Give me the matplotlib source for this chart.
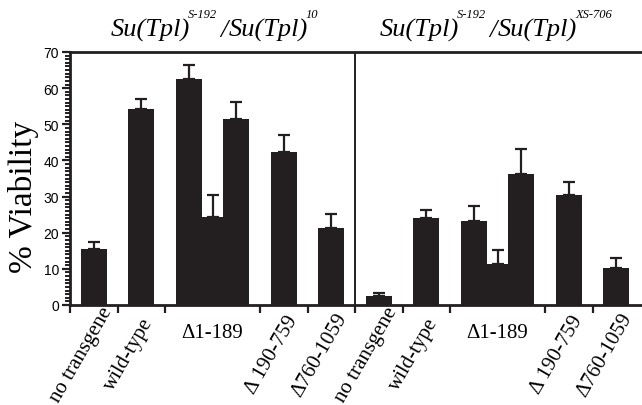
import matplotlib
matplotlib.use("Agg")
import matplotlib.pyplot as plt
import matplotlib.transforms as mtransforms
from matplotlib.ticker import MultipleLocator

# ---- data ----
title_pieces_left = [("Su(Tpl)", "main"), ("S-192", "sup"), ("/", "main"),
                     ("Su(Tpl)", "main"), ("10", "sup")]
title_pieces_right = [("Su(Tpl)", "main"), ("S-192", "sup"), ("/", "main"),
                      ("Su(Tpl)", "main"), ("XS-706", "sup")]
categories = ['no transgene', 'wild-type', 'Δ1-189', 'Δ 190-759', 'Δ760-1059']
# bars per category (Δ1-189 has three lines)
left_values = [[15.5], [54.3], [62.4, 24.3, 51.4], [42.3], [21.3]]
left_errors = [[1.8], [2.7], [4.1, 6.0, 4.7], [4.8], [4.0]]
right_values = [[2.5], [24.2], [23.3, 11.3, 36.2], [30.3], [10.3]]
right_errors = [[0.8], [2.0], [4.0, 4.0, 7.0], [3.6], [2.7]]

bar_color = '#231f20'

fig = plt.figure(figsize=(6.42, 4.06), dpi=100)
W, H = 642, 406
ax = fig.add_axes([70 / W, 1 - 306 / H, (642 - 70) / W, (306 - 53) / H])

slot_px = 47.5
xmax = (642 - 70) / slot_px
ax.set_xlim(0, xmax)
ax.set_ylim(0, 70)

bar_w = 0.55
tick_positions = []
label_centers = []
pos = 0.0
for panel_vals, panel_errs in [(left_values, left_errors), (right_values, right_errors)]:
    for vals, errs in zip(panel_vals, panel_errs):
        n = len(vals)
        span = 1 if n == 1 else 2
        tick_positions.append(pos)
        center = pos + span / 2
        label_centers.append(center)
        if n == 1:
            xs = [center]
        else:
            xs = [center - 0.5, center, center + 0.5]
        ax.bar(xs, vals, width=bar_w, color=bar_color, edgecolor='none', zorder=2)
        ax.errorbar(xs, vals, yerr=[[0] * n, errs], fmt='none', ecolor=bar_color,
                    elinewidth=1.6, capsize=4, capthick=1.6, zorder=3)
        pos += span

# divider between panels
ax.axvline(6, color=bar_color, lw=1.4, zorder=4)

ax.spines['right'].set_visible(False)
for s in ['left', 'bottom', 'top']:
    ax.spines[s].set_linewidth(2.0)
    ax.spines[s].set_color(bar_color)

ax.yaxis.set_major_locator(MultipleLocator(10))
ax.yaxis.set_minor_locator(MultipleLocator(1))
ax.tick_params(axis='y', which='major', direction='out', length=6, width=1.6,
               labelsize=10, pad=2, color=bar_color)
ax.tick_params(axis='y', which='minor', direction='out', length=3.5, width=1.4,
               color=bar_color)
for lab in ax.get_yticklabels():
    lab.set_family('Liberation Sans')

ax.set_xticks(tick_positions)
ax.set_xticklabels([])
ax.tick_params(axis='x', which='major', direction='out', length=6, width=1.6,
               color=bar_color)

# category labels
px = 1.0 / slot_px
all_labels = categories + categories
for c, lab in zip(label_centers, all_labels):
    if lab.startswith('Δ1-189'):
        trans = mtransforms.blended_transform_factory(ax.transData, ax.transAxes)
        ax.text(c, -0.07, lab, transform=trans, ha='center', va='top',
                fontsize=15, family='Liberation Serif')
    else:
        xd = c - 12 * px
        xf = (70 + xd * slot_px) / W
        fig.text(xf, 1 - 355 / H, lab, ha='center', va='center',
                 rotation=60, rotation_mode='anchor', fontsize=15,
                 family='Liberation Serif')

fig.text(24 / W, 1 - 197 / H, '% Viability', rotation=90, ha='center', va='center',
         fontsize=24, family='Liberation Serif')

# titles composed of pieces (main text + superscripts)
fig.canvas.draw()
renderer = fig.canvas.get_renderer()


def draw_title(pieces, x0_px, base_px, sup_base_px):
    x = x0_px
    for txt, kind in pieces:
        if kind == 'main':
            t = fig.text(x / W, 1 - base_px / H, txt, ha='left', va='baseline',
                         fontsize=19, family='Liberation Serif', style='italic')
        else:
            t = fig.text(x / W, 1 - sup_base_px / H, txt, ha='left', va='baseline',
                         fontsize=9, family='Liberation Serif', style='italic')
        bb = t.get_window_extent(renderer)
        if kind == 'sup':
            gap = 3.0
        elif txt == '/':
            gap = 1.0
        else:
            gap = -2.0
        x = x + bb.width + gap


draw_title(title_pieces_left, 111, 37, 18)
draw_title(title_pieces_right, 380, 37, 18)

fig.savefig('out.png', dpi=100)
